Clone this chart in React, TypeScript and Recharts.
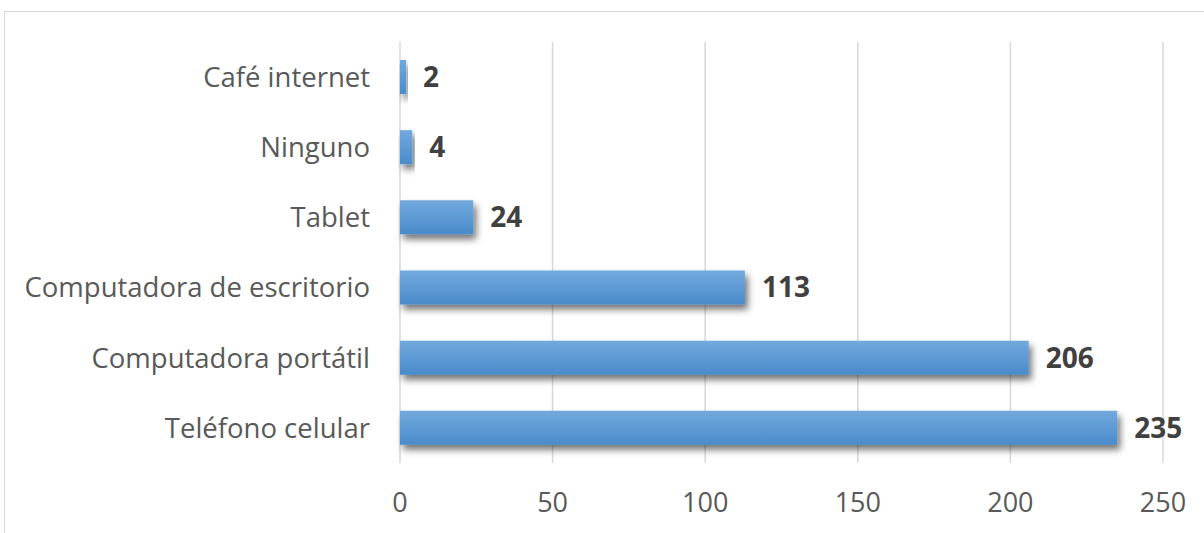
import React from 'react';
import { BarChart, Bar, XAxis, YAxis, CartesianGrid, LabelList } from 'recharts';

const categories = [
  'Café internet',
  'Ninguno',
  'Tablet',
  'Computadora de escritorio',
  'Computadora portátil',
  'Teléfono celular',
];
const values = [2, 4, 24, 113, 206, 235];
const xTicks = [0, 50, 100, 150, 200, 250];

const data = categories.map((name, i) => ({ name, value: values[i] }));

const FONT = '"Open Sans", sans-serif';

const App: React.FC = () => {
  return (
    <div style={{ position: 'absolute', left: 0, top: 0, width: 1204, height: 533, background: '#fff', overflow: 'hidden' }}>
      {/* outer chart border */}
      <div
        style={{
          position: 'absolute',
          left: 4,
          top: 11,
          width: 1220,
          height: 540,
          border: '1px solid #d9d9d9',
        }}
      />
      <BarChart
        width={1204}
        height={533}
        data={data}
        layout="vertical"
        margin={{ top: 42, right: 41, left: 0, bottom: 0 }}
        style={{ position: 'absolute', left: 0, top: 0, fontFamily: FONT }}
      >
        <defs>
          <linearGradient id="barFill" x1="0" y1="0" x2="0" y2="1">
            <stop offset="0%" stopColor="#72a9dd" />
            <stop offset="100%" stopColor="#4a8bcb" />
          </linearGradient>
          <filter id="barShadow" x="-10%" y="-30%" width="130%" height="180%">
            <feDropShadow dx="3" dy="5" stdDeviation="3.5" floodColor="#000" floodOpacity="0.55" />
          </filter>
        </defs>
        <CartesianGrid horizontal={false} stroke="#d9d9d9" strokeWidth={1.5} />
        <XAxis
          type="number"
          domain={[0, 250]}
          ticks={xTicks}
          axisLine={false}
          tickLine={false}
          height={70}
          tickMargin={24}
          tick={{ fill: '#595959', fontSize: 27, fontFamily: FONT }}
          interval={0}
        />
        <YAxis
          type="category"
          dataKey="name"
          width={400}
          axisLine={false}
          tickLine={false}
          tickMargin={24}
          tick={{ fill: '#595959', fontSize: 27.5, fontFamily: FONT }}
          interval={0}
        />
        <Bar
          dataKey="value"
          fill="url(#barFill)"
          barSize={34}
          isAnimationActive={false}
          filter="url(#barShadow)"
        >
          <LabelList
            dataKey="value"
            position="right"
            offset={17}
            style={{ fill: '#404040', fontSize: 28, fontWeight: 700, fontFamily: FONT }}
          />
        </Bar>
      </BarChart>
    </div>
  );
};

export default App;
